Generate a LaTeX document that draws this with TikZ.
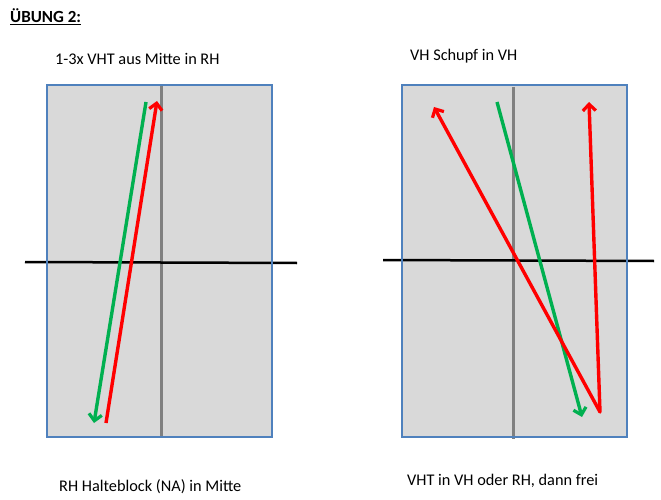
\documentclass[tikz,border=0pt]{standalone}
\usepackage{fontspec}
\setmainfont{Carlito}
\usetikzlibrary{arrows.meta}
\definecolor{boardblue}{RGB}{79,129,189}
\definecolor{boardgray}{RGB}{217,217,217}
\definecolor{movered}{RGB}{255,0,0}
\definecolor{movegreen}{RGB}{0,176,80}

\begin{document}
\begin{tikzpicture} [x=1pt,y=-1pt,
  board/.style= {draw=boardblue,line width=1.6pt},
  midline/.style= {draw=gray,line width=3pt},
  netline/.style= {draw=black,line width=2.5pt},
  ball/.style= {line width=3.4pt,-{Straight Barb[length=6.5pt,width=13pt,line width=3.2pt]}},
  caption/.style= {anchor=west,inner sep=0,font=\fontsize{16.3}{18}\selectfont}]
  \useasboundingbox (0,0) rectangle (661,500);
  % Title
  {\node [anchor=west,inner sep=0,font=\fontsize{17}{19}\selectfont\bfseries] (title) at (10,17) {\underline{ÜBUNG 2:}};}
  % Board 1
  {\fill [boardgray] (47,85) rectangle (272,437);}
  {\draw [midline] (161,85) -- (161,438);}
  {\draw [netline] (25,262) -- (297,263);}
  {\draw [board] (47,85) rectangle (272,437);}
  {\coordinate (1;g) at (146,102);}
  {\coordinate (1;h) at (94,423);}
  {\coordinate (1;r) at (106,423);}
  {\coordinate (1;t) at (157,101);}
  {\draw [ball,movegreen] (1;g) -- (1;h);}
  {\draw [ball,movered] (1;r) -- (1;t);}
  {\node [caption] (cap1) at (55,59) {1-3x VHT aus Mitte in RH};}
  {\node [caption] (sub1) at (59,487) {RH Halteblock (NA) in Mitte};}
  % Board 2
  {\fill [boardgray] (402,85) rectangle (627,437);}
  {\draw [midline] (513,87) -- (513,439);}
  {\draw [netline] (383,260) -- (654,261);}
  {\draw [board] (402,85) rectangle (627,437);}
  {\coordinate (2;g) at (497,102);}
  {\coordinate (2;h) at (582,417);}
  {\coordinate (2;r) at (600,412);}
  {\coordinate (2;a) at (434,107);}
  {\coordinate (2;b) at (589,102);}
  {\draw [ball,movegreen] (2;g) -- (2;h);}
  {\draw [ball,movered,line join=round,{Straight Barb[length=6.5pt,width=13pt,line width=3.2pt]}-{Straight Barb[length=6.5pt,width=13pt,line width=3.2pt]}] (2;a) -- (2;r) -- (2;b);}
  {\node [caption] (cap2) at (410,56) {VH Schupf in VH};}
  {\node [caption] (sub2) at (407,481) {VHT in VH oder RH, dann frei};}
\end{tikzpicture}
\end{document}
